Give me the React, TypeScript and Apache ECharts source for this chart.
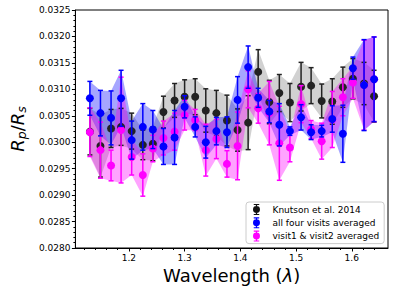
import React, { useEffect, useRef } from "react";
import * as echarts from "echarts";

const wavelength = [1.130, 1.149, 1.168, 1.186, 1.205, 1.225, 1.243, 1.262, 1.282, 1.300, 1.319, 1.338, 1.357, 1.376, 1.395, 1.414, 1.432, 1.452, 1.470, 1.489, 1.509, 1.527, 1.546, 1.565, 1.584, 1.602, 1.622, 1.640];

const knutsonDepth = [0.03020, 0.02993, 0.03026, 0.03029, 0.03021, 0.02995, 0.02997, 0.03057, 0.03079, 0.03086, 0.03086, 0.03060, 0.03055, 0.03041, 0.03023, 0.03037, 0.03133, 0.03076, 0.03093, 0.03075, 0.03105, 0.03107, 0.03078, 0.03077, 0.03104, 0.03120, 0.03111, 0.03087];
const knutsonErr = [0.00044, 0.00059, 0.00036, 0.00035, 0.00034, 0.00028, 0.00032, 0.00030, 0.00032, 0.00032, 0.00034, 0.00041, 0.00043, 0.00048, 0.00040, 0.00051, 0.00042, 0.00041, 0.00035, 0.00036, 0.00046, 0.00034, 0.00032, 0.00043, 0.00038, 0.00038, 0.00040, 0.00049];

const allFourDepth = [0.03083, 0.03055, 0.03046, 0.03083, 0.03004, 0.03029, 0.03024, 0.02992, 0.03009, 0.03067, 0.03029, 0.03000, 0.03021, 0.03019, 0.03080, 0.03142, 0.03084, 0.03058, 0.03033, 0.03021, 0.03047, 0.03019, 0.03021, 0.03044, 0.03016, 0.03140, 0.03108, 0.03119];
const allFourErr = [0.00032, 0.00043, 0.00051, 0.00053, 0.00036, 0.00044, 0.00036, 0.00034, 0.00051, 0.00021, 0.00019, 0.00030, 0.00026, 0.00029, 0.00044, 0.00040, 0.00018, 0.00021, 0.00040, 0.00008, 0.00024, 0.00014, 0.00011, 0.00025, 0.00054, 0.00021, 0.00086, 0.00080];

const visit12Depth = [0.03019, 0.02985, 0.02956, 0.03023, 0.02972, 0.02938, 0.02988, 0.03008, 0.03020, 0.03051, 0.03042, 0.02985, 0.03006, 0.02959, 0.02993, 0.03100, 0.03064, 0.03055, 0.02998, 0.02990, 0.03072, 0.03024, 0.03002, 0.03043, 0.03085, 0.03113, 0.03108, 0.03119];
const visit12Err = [0.00046, 0.00053, 0.00029, 0.00100, 0.00034, 0.00040, 0.00025, 0.00032, 0.00035, 0.00028, 0.00020, 0.00049, 0.00037, 0.00025, 0.00064, 0.00035, 0.00028, 0.00060, 0.00070, 0.00027, 0.00035, 0.00017, 0.00034, 0.00053, 0.00035, 0.00030, 0.00085, 0.00080];

const xMajorTicks = [1.2, 1.3, 1.4, 1.5, 1.6];
const xMinorTicks = [1.12, 1.14, 1.16, 1.18, 1.22, 1.24, 1.26, 1.28, 1.32, 1.34, 1.36, 1.38, 1.42, 1.44, 1.46, 1.48, 1.52, 1.54, 1.56, 1.58, 1.62, 1.64];

const seriesNames = ["Knutson et al. 2014", "all four visits averaged", "visit1 & visit2 averaged"];

const FONT = "DejaVu Sans";
const ICON =
  "path://M5.3,0 h1.4 v12 h-1.4 z M3,0 h6 v1.2 h-6 z M3,10.8 h6 v1.2 h-6 z M2.2,6 a3.8,3.8 0 1,1 7.6,0 a3.8,3.8 0 1,1 -7.6,0 z";

function bandSeries(ys: number[], es: number[], color: string) {
  return {
    type: "custom",
    silent: true,
    z: 1,
    clip: true,
    data: wavelength.map((x, i) => [x, ys[i], es[i]]),
    renderItem: (params: any, api: any) => {
      if (params.dataIndex !== 0) return null;
      const upper = wavelength.map((x, i) => api.coord([x, ys[i] + es[i]]));
      const lower = wavelength.map((x, i) => api.coord([x, ys[i] - es[i]])).reverse();
      return {
        type: "polygon",
        shape: { points: upper.concat(lower) },
        style: { fill: color },
      };
    },
  };
}

function errSeries(ys: number[], es: number[], color: string, z: number) {
  return {
    type: "custom",
    silent: true,
    z,
    data: wavelength.map((x, i) => [x, ys[i] - es[i], ys[i] + es[i]]),
    encode: { x: 0, y: [1, 2] },
    renderItem: (params: any, api: any) => {
      const x = api.value(0);
      const lo = api.coord([x, api.value(1)]);
      const hi = api.coord([x, api.value(2)]);
      const st = { stroke: color, lineWidth: 1.5 };
      return {
        type: "group",
        children: [
          { type: "line", shape: { x1: lo[0], y1: lo[1], x2: hi[0], y2: hi[1] }, style: st },
          { type: "line", shape: { x1: lo[0] - 2.5, y1: lo[1], x2: lo[0] + 2.5, y2: lo[1] }, style: st },
          { type: "line", shape: { x1: hi[0] - 2.5, y1: hi[1], x2: hi[0] + 2.5, y2: hi[1] }, style: st },
        ],
      };
    },
  };
}

function pointSeries(name: string, ys: number[], color: string, z: number) {
  return {
    type: "scatter",
    name,
    z,
    symbol: "circle",
    symbolSize: 8,
    itemStyle: { color, opacity: 1 },
    data: wavelength.map((x, i) => [x, ys[i]]),
  };
}

export default function App() {
  const ref = useRef<HTMLDivElement>(null);
  useEffect(() => {
    if (!ref.current) return;
    const chart = echarts.init(ref.current, null, { renderer: "svg" });
    const option: any = {
      animation: false,
      grid: { left: 67, right: 11, top: 10, bottom: 45, show: true, borderColor: "#000", borderWidth: 1 },
      legend: {
        orient: "vertical",
        left: 246,
        top: 202,
        padding: [2, 5, 2, 7],
        itemGap: 2.3,
        itemWidth: 10,
        itemHeight: 11,
        borderColor: "#cccccc",
        borderWidth: 1,
        borderRadius: 3,
        backgroundColor: "rgba(255,255,255,0.85)",
        textStyle: { fontFamily: FONT, fontSize: 9, color: "#000", padding: [0, 0, 0, 6] },
        data: [
          { name: seriesNames[0], icon: ICON, itemStyle: { color: "#111" } },
          { name: seriesNames[1], icon: ICON, itemStyle: { color: "#0000ff" } },
          { name: seriesNames[2], icon: ICON, itemStyle: { color: "#ff00ff" } },
        ],
      },
      xAxis: [
        {
          type: "value",
          min: 1.104,
          max: 1.665,
          name: "Wavelength ({it|λ})",
          nameLocation: "middle",
          nameGap: 18,
          nameTextStyle: {
            fontFamily: FONT,
            fontSize: 18,
            color: "#000",
            verticalAlign: "top",
            rich: { it: { fontFamily: FONT, fontSize: 18, fontStyle: "italic", color: "#000" } },
          },
          axisLine: { show: true, lineStyle: { color: "#000", width: 1 } },
          axisTick: { show: true, inside: false, length: 3.5, lineStyle: { color: "#000" }, customValues: xMajorTicks },
          axisLabel: {
            fontFamily: FONT,
            fontSize: 9,
            color: "#000",
            margin: 5,
            customValues: xMajorTicks,
            formatter: (v: number) => v.toFixed(1),
          },
          splitLine: { show: false },
        },
        {
          type: "value",
          min: 1.104,
          max: 1.665,
          position: "bottom",
          axisLine: { show: false },
          axisTick: { show: true, inside: false, length: 2, lineStyle: { color: "#000" }, customValues: xMinorTicks },
          axisLabel: { show: false },
          splitLine: { show: false },
        },
      ],
      yAxis: {
        type: "value",
        min: 0.028,
        max: 0.0325,
        interval: 0.0005,
        name: "{it|R}{sub|p}{n|/}{it|R}{sub|s}",
        nameLocation: "middle",
        nameRotate: 90,
        nameGap: 44,
        nameTextStyle: {
          fontFamily: FONT,
          fontSize: 18,
          color: "#000",
          rich: {
            it: { fontFamily: FONT, fontSize: 18, fontStyle: "italic", color: "#000" },
            n: { fontFamily: FONT, fontSize: 18, color: "#000" },
            sub: { fontFamily: FONT, fontSize: 12.5, fontStyle: "italic", color: "#000", padding: [9, 0, 0, 0] },
          },
        },
        axisLine: { show: true, lineStyle: { color: "#000", width: 1 } },
        axisTick: { show: true, inside: false, length: 3.5, lineStyle: { color: "#000" } },
        minorTick: { show: true, splitNumber: 5, length: 2, lineStyle: { color: "#000" } },
        axisLabel: { fontFamily: FONT, fontSize: 9, color: "#000", margin: 5, formatter: (v: number) => v.toFixed(4) },
        splitLine: { show: false },
        minorSplitLine: { show: false },
      },
      series: [
        bandSeries(knutsonDepth, knutsonErr, "rgba(0,0,0,0.18)"),
        bandSeries(allFourDepth, allFourErr, "rgba(0,0,255,0.35)"),
        bandSeries(visit12Depth, visit12Err, "rgba(255,0,255,0.36)"),
        errSeries(knutsonDepth, knutsonErr, "#222222", 3),
        pointSeries(seriesNames[0], knutsonDepth, "#222222", 4),
        errSeries(visit12Depth, visit12Err, "#ff00ff", 5),
        pointSeries(seriesNames[2], visit12Depth, "#ff00ff", 6),
        errSeries(allFourDepth, allFourErr, "#0000ff", 7),
        pointSeries(seriesNames[1], allFourDepth, "#0000ff", 8),
      ],
    };
    chart.setOption(option);
    return () => chart.dispose();
  }, []);
  return <div ref={ref} style={{ width: 399, height: 293, position: "absolute", left: 0, top: 0 }} />;
}
